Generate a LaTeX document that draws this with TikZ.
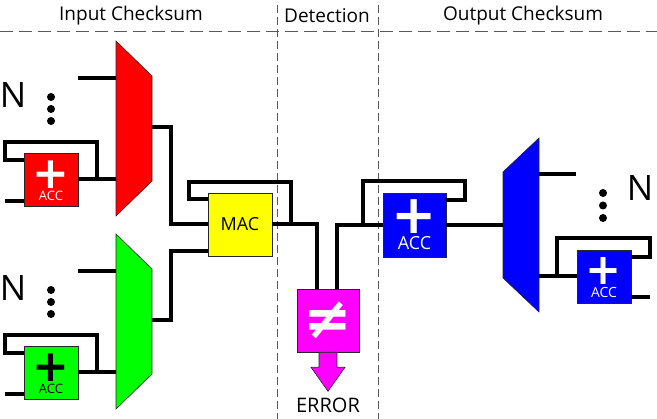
\documentclass[tikz,border=0pt]{standalone}
\usepackage{fontspec}
\setmainfont{Open Sans}
\newfontfamily\symfont{DejaVu Sans}
\definecolor{accred}{RGB}{255,0,0}
\definecolor{accgreen}{RGB}{0,255,0}
\definecolor{accblue}{RGB}{0,0,255}
\definecolor{macyellow}{RGB}{255,255,0}
\definecolor{errmag}{RGB}{255,0,255}
\tikzset{
  wire/.style={line width=4pt, line join=miter},
  block/.style={draw=black!85, line width=0.6pt, inner sep=0pt},
  accbox/.style={block, minimum width=54pt, minimum height=53pt},
  mux/.style={draw=black!85, line width=0.6pt},
  hdivider/.style={black!65, line width=1pt, dash pattern=on 13pt off 6pt},
  vdivider/.style={black!65, line width=1pt, dash pattern=on 8pt off 4pt},
  header/.style={font=\fontsize{19}{22}\selectfont, inner sep=0pt},
  bigN/.style={font=\fontsize{35}{40}\selectfont, inner sep=0pt},
  plus/.style={font=\symfont\bfseries\fontsize{#1}{#1}\selectfont, inner sep=0pt,
    text height=0.66*#1pt, text depth=0pt},
  acclabel/.style={font=\fontsize{#1}{#1}\selectfont, inner sep=0pt,
    text height=0.72*#1pt, text depth=0pt}
}
\begin{document}
\begin{tikzpicture}[x=1pt,y=-1pt]
  \useasboundingbox (0,0) rectangle (657,419);
  \draw[hdivider] (0,32) -- (657,32);
  \draw[vdivider] (277,5) -- (277,419);
  \draw[vdivider] (378,5) -- (378,419);
  \node[header] (hin) at (131,16) {Input Checksum};
  \node[header] (hdet) at (327,16) {Detection};
  \node[header] (hout) at (523,16) {Output Checksum};
  % input checksums
  \foreach \nm/\col/\ink/\dy in {r/accred/white/0, g/accgreen/black/193}{
    \draw[mux, fill=\col] (116,41+\dy) -- (152,76+\dy) -- (152,181+\dy) -- (116,216+\dy) -- cycle;
    \coordinate (\nm-in1) at (116,78+\dy);
    \coordinate (\nm-in2) at (116,179.5+\dy);
    \coordinate (\nm-out) at (152,127+\dy);
    \coordinate (\nm-fb) at (97,179.5+\dy);
    \node[accbox, fill=\col] (\nm-acc) at (51,179.5+\dy) {};
    \node[plus=44, text=\ink] at ([yshift=6pt]\nm-acc.center) {+};
    \node[acclabel=13, text=\ink] at ([yshift=-16pt]\nm-acc.center) {ACC};
    \node[bigN] (\nm-N) at (13,95+\dy) {N};
    \foreach \k in {0,1,2}
      \fill (51,97+12*\k+\dy) circle (4pt);
    \draw[wire] (\nm-in1) -- ++(-38,0);
    \draw[wire] (\nm-acc.east) -- (\nm-in2);
    \draw[wire] (\nm-fb) |- (5,142+\dy) |- ([yshift=19.5pt]\nm-acc.west);
    \draw[wire] ([yshift=-21.5pt]\nm-acc.west) -- ++(-19,0);
  }
  % detection
  \node[block, fill=macyellow, minimum width=64pt, minimum height=63pt,
        font=\fontsize{18}{20}\selectfont] (mac) at (240,224.5) {MAC};
  \draw[wire] (r-out) -- ++(19,0) |- (mac.west);
  \draw[wire] (g-out) -- ++(19,0) |- ([yshift=-26.5pt]mac.west);
  \coordinate (macfb) at (291,224.5);
  \draw[wire] (macfb) |- (189,182) |- ([yshift=25.5pt]mac.west);
  \node[block, fill=errmag, minimum width=62pt, minimum height=63pt,
        text=white, font=\symfont\bfseries\fontsize{58}{58}\selectfont] (neq) at (328,320.5) {≠};
  \draw[wire] (mac.east) -| ([xshift=-11pt]neq.north);
  \draw[mux, fill=errmag] ([xshift=-9pt]neq.south) -- ++(0,15) -- ++(-8,0) -- ++(17,24)
    -- ++(17,-24) -- ++(-8,0) -- ++(0,-15) -- cycle;
  \node[header, font=\fontsize{20}{22}\selectfont] (err) at (328,405.5) {ERROR};
  % output checksum
  \node[block, fill=accblue, minimum width=63pt, minimum height=64pt] (bacc) at (414.5,225) {};
  \node[plus=54, text=white] at ([yshift=9.5pt]bacc.center) {+};
  \node[acclabel=18, text=white] at ([yshift=-18.5pt]bacc.center) {ACC};
  \draw[wire] (bacc.west) -| ([xshift=9pt]neq.north);
  \coordinate (baccfb) at (363,225);
  \draw[wire] ([yshift=25pt]bacc.east) -| (465,181) -| (baccfb);
  \draw[mux, fill=accblue] (503,172) -- (539,138) -- (539,312) -- (503,278) -- cycle;
  \coordinate (bin) at (503,225);
  \coordinate (bout1) at (539,174);
  \coordinate (bout2) at (539,276.5);
  \draw[wire] (bacc.east) -- (bin);
  \draw[wire] (bout1) -- ++(37,0);
  \node[accbox, fill=accblue] (bacc2) at (604,276.5) {};
  \node[plus=43, text=white] at ([yshift=6.5pt]bacc2.center) {+};
  \node[acclabel=14, text=white] at ([yshift=-15.5pt]bacc2.center) {ACC};
  \draw[wire] (bout2) -- (bacc2.west);
  \coordinate (bacc2fb) at (557,276.5);
  \draw[wire] (bacc2fb) |- (650,238) |- ([yshift=19.5pt]bacc2.east);
  \draw[wire] ([yshift=-20.5pt]bacc2.east) -- ++(19,0);
  \node[bigN] (bN) at (640,188) {N};
  \foreach \k in {0,1,2}
    \fill (603,193+12.5*\k) circle (4pt);
\end{tikzpicture}
\end{document}
